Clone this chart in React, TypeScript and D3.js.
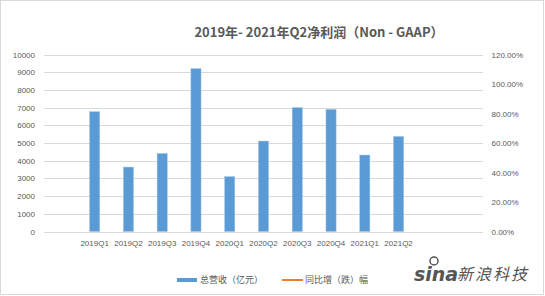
import React from "react";
import * as d3 from "d3";

const categories = ["", "2019Q1", "2019Q2", "2019Q3", "2019Q4", "2020Q1", "2020Q2", "2020Q3", "2020Q4", "2021Q1", "2021Q2", "", ""];
const revenue: (number | null)[] = [null, 6770, 3640, 4410, 9200, 3100, 5110, 7000, 6900, 4320, 5370, null, null];
const leftTicks = [0, 1000, 2000, 3000, 4000, 5000, 6000, 7000, 8000, 9000, 10000];
const rightTicks = [0, 0.2, 0.4, 0.6, 0.8, 1.0, 1.2];
const title = "2019年- 2021年Q2净利润（Non - GAAP）";
const legendBar = "总营收（亿元）";
const legendLine = "同比增（跌）幅";

const W = 545, H = 296;
const plotL = 44, plotR = 483, plotT = 54.5, plotB = 231.5;
const BLUE = "#5B9BD5", ORANGE = "#ED7D31", GRID = "#D9D9D9", TXT = "#595959";
const NUM_FONT = "'Liberation Sans', Arial, sans-serif";
const CJK_FONT = "'Noto Sans CJK SC', 'Noto Sans', sans-serif";

export default function App() {
  const idx = categories.map((_, i) => String(i));
  const x = d3.scaleBand<string>().domain(idx).range([plotL, plotR]).paddingInner(0.7).paddingOuter(0.35);
  const y = d3.scaleLinear().domain([0, 10000]).range([plotB, plotT]);
  const yR = d3.scaleLinear().domain([0, 1.2]).range([plotB, plotT]);
  const pctFmt = d3.format(".2%");

  return (
    <svg width={W} height={H} style={{ position: "absolute", left: 0, top: 0, background: "#fff" }}>
      <rect x={0.5} y={0.5} width={W - 2} height={H - 2} fill="#fff" stroke={GRID} strokeWidth={1} />
      <text x={319} y={36.5} textAnchor="middle" fontFamily={CJK_FONT} fontWeight="bold" fontSize={13} fill={TXT}>
        {title}
      </text>
      {leftTicks.map((t) => (
        <g key={"l" + t}>
          <line x1={plotL} x2={plotR} y1={Math.round(y(t)) + 0.5} y2={Math.round(y(t)) + 0.5} stroke={GRID} strokeWidth={1} />
          <text x={35} y={y(t) + 3} textAnchor="end" fontFamily={NUM_FONT} fontSize={8} fill={TXT}>{t}</text>
        </g>
      ))}
      {rightTicks.map((t) => (
        <text key={"r" + t} x={491.5} y={yR(t) + 3} textAnchor="start" fontFamily={NUM_FONT} fontSize={8} fill={TXT}>
          {pctFmt(t)}
        </text>
      ))}
      {revenue.map((v, i) =>
        v == null ? null : (
          <rect key={"b" + i} x={x(String(i))!} y={y(v)} width={x.bandwidth()} height={y(0) - y(v)} fill={BLUE} stroke="#9DC3E6" strokeWidth={0.5} />
        )
      )}
      {categories.map((c, i) =>
        c ? (
          <text key={"c" + i} x={x(String(i))! + x.bandwidth() / 2} y={245.5} textAnchor="middle" fontFamily={NUM_FONT} fontSize={8} fill={TXT}>
            {c}
          </text>
        ) : null
      )}
      {/* legend */}
      <rect x={177} y={278} width={20} height={4} fill={BLUE} />
      <text x={200} y={283} fontFamily={CJK_FONT} fontSize={9} fill={TXT}>{legendBar}</text>
      <line x1={282} x2={303} y1={280} y2={280} stroke={ORANGE} strokeWidth={2} />
      <text x={305} y={283} fontFamily={CJK_FONT} fontSize={9} fill={TXT}>{legendLine}</text>
      {/* watermark */}
      <text x={414} y={281} fontFamily="'DejaVu Sans', sans-serif" fontWeight="bold" fontStyle="italic" fontSize={19} fill="#555">sina</text>
      <circle cx={434} cy={261} r={4} fill="none" stroke="#555" strokeWidth={1.5} />
      <text x={457} y={280} fontFamily={CJK_FONT} fontSize={16} fill="#555" fontStyle="italic" letterSpacing={2}>新浪科技</text>
    </svg>
  );
}
